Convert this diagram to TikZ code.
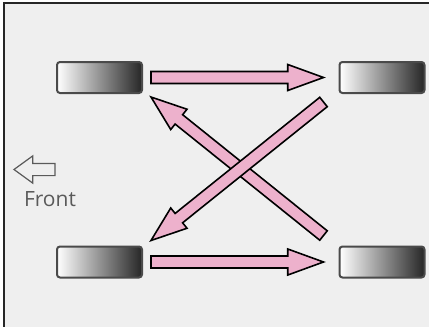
\documentclass[tikz,border=0pt]{standalone}
\usepackage{fontspec}
\setmainfont{Open Sans}
\usetikzlibrary{shapes.arrows,calc}
\definecolor{bgcol}{HTML}{EFEFEF}
\definecolor{rimcol}{HTML}{4A4A4A}
\definecolor{pinkcol}{HTML}{EDB1CC}
\definecolor{textcol}{HTML}{5A5A5A}
\newcommand\swaparrow[2]{%
  \path let \p1=#1, \p2=#2, \n1={atan2(\y2-\y1,\x2-\x1)}, \n2={veclen(\x2-\x1,\y2-\y1)} in
    node[fatarrow, rotate=\n1, minimum height=\n2, anchor=tail] at (\p1) {};}

\begin{document}
\begin{tikzpicture}[x=1pt, y=-1pt]
  \tikzset{tire/.style={draw=rimcol, line width=2pt, rounded corners=3pt, minimum width=85pt, minimum height=31pt,
      inner sep=0pt, outer sep=0pt, left color=white, right color=black!85},
    fatarrow/.style={single arrow, draw=black, line width=1.6pt, fill=pinkcol, inner xsep=0pt, inner ysep=5.2pt,
      single arrow head extend=7pt, single arrow tip angle=40, outer sep=0pt},
    frontarrow/.style={single arrow, draw=textcol, line width=1.2pt, minimum height=41pt, inner xsep=0pt, inner ysep=5.5pt,
      single arrow head extend=7.5pt, single arrow tip angle=72, outer sep=0pt}}
  \useasboundingbox (0,0) rectangle (429,327);
  \fill[white] (0,0) rectangle (429,327);
  \fill[bgcol] (4,3) rectangle (429,327);
  \draw[line width=1.5pt, black!85] (4,327) -- (4,3) -- (429,3);

  \node[tire] (tl) at (99.5,77.5) {};
  \node[tire] (tr) at (382,77.5) {};
  \node[tire] (bl) at (99.5,262) {};
  \node[tire] (br) at (382,262) {};

  \swaparrow{($(tl.east)+(9,0)$)}{($(tr.west)+(-16,0)$)}
  \swaparrow{($(bl.east)+(9,0)$)}{($(br.west)+(-16,0)$)}
  \swaparrow{($(br.north west)+(-16,-11)$)}{($(tl.south east)+(9,4)$)}
  \swaparrow{($(tr.south west)+(-16,9)$)}{($(bl.north east)+(9,-6)$)}

  \node[frontarrow, rotate=180, anchor=tip] (front) at (14,169.5) {};
  \node[font=\fontsize{21}{25}\selectfont, text=textcol, anchor=base] (fronttext) at (50,206) {Front};
\end{tikzpicture}
\end{document}
